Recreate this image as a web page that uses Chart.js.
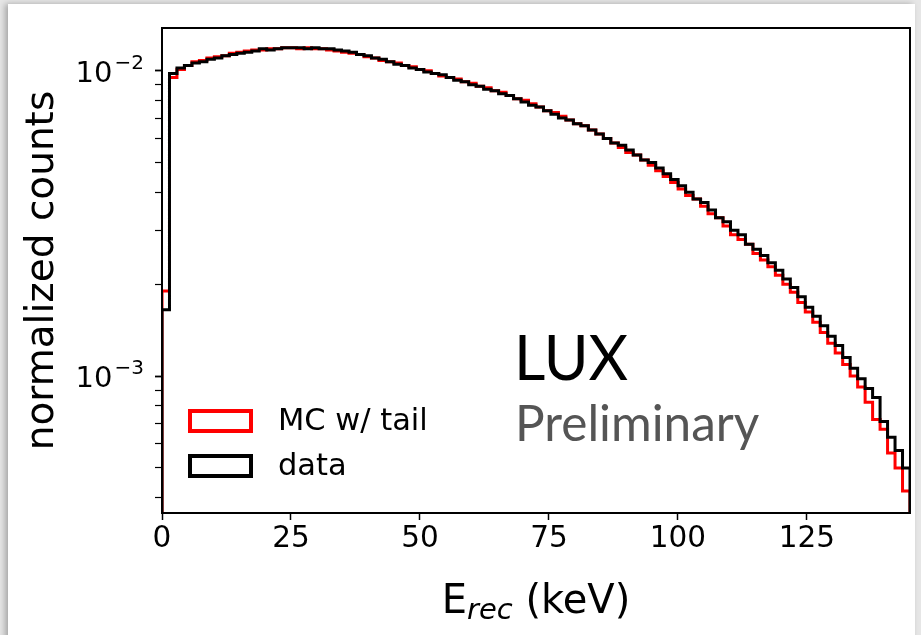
<!DOCTYPE html>
<html>
<head>
<meta charset="utf-8">
<script src="https://cdn.jsdelivr.net/npm/chart.js@4.4.1/dist/chart.umd.min.js"></script>
<style>
  html, body { margin: 0; padding: 0; background: #e6e6e6; overflow: hidden; }
  #sheet { position: absolute; left: 8px; top: 4px; width: 907px; height: 700px; background: #fff;
           box-shadow: -3px 0 6px rgba(0,0,0,0.28); }
  #wrap { position: absolute; left: 0; top: 0; width: 921px; height: 635px; }
</style>
</head>
<body>
<div id="sheet"></div>
<div id="wrap"><canvas id="myChart" width="921" height="635"></canvas></div>
<script>
// histogram binning (keV)
const E_MIN = 0;
const E_MAX = 145;
const N_BINS = 100;

// normalized counts per bin
const mcTail = [
  0.0019, 0.0095, 0.0101, 0.0104, 0.0107, 0.0108, 0.0110, 0.0111, 0.0112, 0.0114,
  0.0115, 0.0116, 0.0117, 0.0117, 0.0118, 0.0118, 0.0119, 0.0119, 0.0118, 0.0119,
  0.0118, 0.0118, 0.0117, 0.0116, 0.0115, 0.0114, 0.0113, 0.0111, 0.0110, 0.0108,
  0.0107, 0.0106, 0.0104, 0.0103, 0.0101, 0.0100, 0.0098, 0.0096, 0.0095, 0.0094,
  0.0092, 0.0091, 0.0089, 0.0088, 0.0086, 0.0085, 0.0083, 0.0081, 0.0080, 0.0078,
  0.0076, 0.0074, 0.0073, 0.0071, 0.0069, 0.0067, 0.0066, 0.0064, 0.0062, 0.0060,
  0.0058, 0.0056, 0.0054, 0.0053, 0.0051, 0.0049, 0.0047, 0.0045, 0.0043, 0.0041,
  0.0039, 0.0038, 0.0036, 0.0034, 0.0033, 0.0031, 0.0029, 0.0028, 0.0027, 0.00252,
  0.00240, 0.00228, 0.00214, 0.00200, 0.00188, 0.00174, 0.00162, 0.00150, 0.00139, 0.00128,
  0.00119, 0.00109, 0.00100, 0.00092, 0.00082, 0.00072, 0.00067, 0.00056, 0.00050, 0.00042
];
const dataCounts = [
  0.00165, 0.0098, 0.0102, 0.0104, 0.0106, 0.0107, 0.0109, 0.0110, 0.0112, 0.0113,
  0.0114, 0.0115, 0.0116, 0.0118, 0.0117, 0.0118, 0.0119, 0.0119, 0.0119, 0.0118,
  0.0119, 0.0118, 0.0118, 0.0117, 0.0116, 0.0115, 0.0113, 0.0112, 0.0110, 0.0109,
  0.0107, 0.0105, 0.0104, 0.0102, 0.0101, 0.0099, 0.0098, 0.0097, 0.0095, 0.0093,
  0.0092, 0.0090, 0.0089, 0.0087, 0.0086, 0.0084, 0.0083, 0.0081, 0.0079, 0.0077,
  0.0076, 0.0074, 0.0072, 0.0070, 0.0069, 0.0067, 0.0066, 0.0064, 0.0062, 0.0060,
  0.0058, 0.0057, 0.0055, 0.0053, 0.0051, 0.0050, 0.0048, 0.0046, 0.0044, 0.0042,
  0.0040, 0.0038, 0.0037, 0.0035, 0.0033, 0.0032, 0.0030, 0.0029, 0.0027, 0.0026,
  0.00248, 0.00235, 0.00222, 0.00208, 0.00195, 0.00182, 0.00168, 0.00157, 0.00146, 0.00135,
  0.00126, 0.00115, 0.00106, 0.00098, 0.00091, 0.00085, 0.00071, 0.00063, 0.00057, 0.00050
];

// axis ranges and ticks
const Y_MIN = 3.56e-4;
const Y_MAX = 0.0138;
const xTicks = [0, 25, 50, 75, 100, 125];
const yTicks = [4e-4, 5e-4, 6e-4, 7e-4, 8e-4, 9e-4, 1e-3, 2e-3, 3e-3, 4e-3, 5e-3, 6e-3, 7e-3, 8e-3, 9e-3, 1e-2];
const yMajor = [1e-3, 1e-2];
const yMajorExp = ['−3', '−2'];

// step outline like matplotlib histtype="step"
function stepPoints(vals) {
  const w = (E_MAX - E_MIN) / N_BINS;
  const pts = [{ x: E_MIN, y: 1e-5 }];
  vals.forEach((v, i) => pts.push({ x: E_MIN + i * w, y: v }));
  pts.push({ x: E_MAX, y: vals[vals.length - 1] });
  pts.push({ x: E_MAX, y: 1e-5 });
  return pts;
}

const FONT = "'DejaVu Sans', sans-serif";

const extras = {
  id: 'extras',
  afterDatasetsDraw(chart) {
    const { ctx, chartArea: a } = chart;
    ctx.save();
    ctx.strokeStyle = '#000';
    ctx.lineWidth = 2;
    ctx.strokeRect(a.left, a.top, a.right - a.left, a.bottom - a.top);
    ctx.restore();
  },
  afterDraw(chart) {
    const { ctx } = chart;
    const ys = chart.scales.y;
    ctx.save();
    ctx.fillStyle = '#000';

    // y tick labels 10^-n
    ctx.textBaseline = 'alphabetic';
    yMajor.forEach((v, i) => {
      const py = ys.getPixelForValue(v);
      ctx.font = '29px ' + FONT;
      ctx.textAlign = 'left';
      const w10 = ctx.measureText('10').width;
      ctx.font = '20px ' + FONT;
      const we = ctx.measureText(yMajorExp[i]).width;
      const x0 = ys.right - 10 - 8 - we - 2 - w10;
      ctx.font = '29px ' + FONT;
      ctx.fillText('10', x0, py + 11);
      ctx.font = '20px ' + FONT;
      ctx.fillText(yMajorExp[i], x0 + w10 + 2, py - 2);
    });

    // legend
    ctx.lineWidth = 4;
    ctx.strokeStyle = '#ff0000';
    ctx.strokeRect(190, 411, 61, 20);
    ctx.strokeStyle = '#000';
    ctx.strokeRect(190, 456, 61, 20);
    ctx.font = '30.5px ' + FONT;
    ctx.textBaseline = 'middle';
    ctx.fillText('MC w/ tail', 278, 422);
    ctx.fillText('data', 278, 467);

    // LUX Preliminary
    ctx.textBaseline = 'alphabetic';
    ctx.font = "61px Lato, 'Open Sans', sans-serif";
    ctx.fillText('LUX', 514, 380);
    ctx.fillStyle = '#555555';
    ctx.font = "49.5px Lato, 'Open Sans', sans-serif";
    ctx.fillText('Preliminary', 515, 441);

    // x axis title E_rec (keV)
    ctx.fillStyle = '#000';
    const parts = [
      { t: 'E', f: '40px ' + FONT, dy: 0 },
      { t: 'rec', f: 'italic 29px ' + FONT, dy: 6 },
      { t: ' (keV)', f: '40px ' + FONT, dy: 0 }
    ];
    let total = 0;
    parts.forEach(p => { ctx.font = p.f; p.w = ctx.measureText(p.t).width; total += p.w; });
    let x = (chart.chartArea.left + chart.chartArea.right) / 2 - total / 2;
    parts.forEach(p => { ctx.font = p.f; ctx.fillText(p.t, x, 613 + p.dy); x += p.w; });
    ctx.restore();
  }
};

const ctx = document.getElementById('myChart');

const myChart = new Chart(ctx, {
  type: 'line',
  plugins: [extras],
  data: {
    datasets: [
      {
        label: 'data',
        data: stepPoints(dataCounts),
        borderColor: '#000000',
        borderWidth: 3,
        stepped: 'before',
        pointRadius: 0,
        fill: false,
        order: 0,
        borderJoinStyle: 'miter'
      },
      {
        label: 'MC w/ tail',
        data: stepPoints(mcTail),
        borderColor: '#ff0000',
        borderWidth: 3,
        stepped: 'before',
        pointRadius: 0,
        fill: false,
        order: 1,
        borderJoinStyle: 'miter'
      }
    ]
  },
  options: {
    responsive: false,
    animation: false,
    devicePixelRatio: 1,
    layout: { padding: { top: 28, right: 11, left: 0, bottom: 0 } },
    plugins: {
      legend: { display: false },
      tooltip: { enabled: false }
    },
    scales: {
      x: {
        type: 'linear',
        min: E_MIN,
        max: E_MAX,
        afterFit(s) { s.height = 122; },
        afterBuildTicks(s) { s.ticks = xTicks.map(v => ({ value: v })); },
        border: { color: '#000', width: 2 },
        grid: { drawOnChartArea: false, drawTicks: true, tickLength: 7, tickWidth: 1.5, tickColor: '#000' },
        ticks: {
          autoSkip: false,
          maxRotation: 0,
          color: '#000',
          padding: 2,
          font: { family: FONT, size: 29.5 }
        }
      },
      y: {
        type: 'logarithmic',
        min: Y_MIN,
        max: Y_MAX,
        afterFit(s) { s.width = 162; },
        afterBuildTicks(s) { s.ticks = yTicks.map(v => ({ value: v, major: yMajor.includes(v) })); },
        border: { color: '#000', width: 2 },
        grid: {
          drawOnChartArea: false,
          drawTicks: true,
          tickLength: 7,
          tickWidth: (c) => (c.tick && yMajor.includes(c.tick.value) ? 1.8 : 1.2),
          tickColor: '#000'
        },
        ticks: {
          autoSkip: false,
          color: '#000',
          padding: 9,
          font: { family: FONT, size: 29 },
          callback: () => ''
        },
        title: {
          display: true,
          text: 'normalized counts',
          color: '#000',
          font: { family: FONT, size: 39 },
          padding: { top: 19, bottom: 0 }
        }
      }
    }
  }
});
</script>
</body>
</html>
